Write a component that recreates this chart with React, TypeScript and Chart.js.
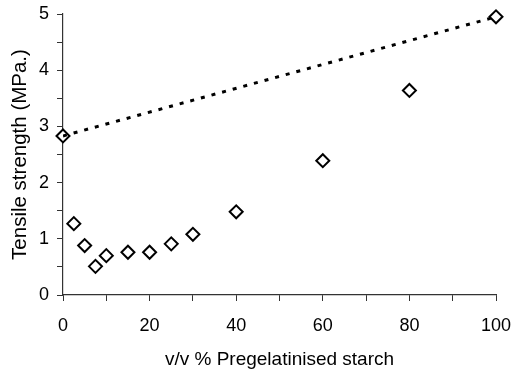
import React, { useEffect, useRef } from "react";
import { Chart, registerables } from "chart.js";

Chart.register(...registerables);

const starchPct = [0, 2.5, 5, 7.5, 10, 15, 20, 25, 30, 40, 60, 80, 100];
const tensile = [2.83, 1.27, 0.88, 0.51, 0.7, 0.76, 0.76, 0.91, 1.08, 1.48, 2.39, 3.64, 4.95];
const trendX = [0, 100];
const trendY = [2.83, 4.95];
const xTitle = "v/v % Pregelatinised starch";
const yTitle = "Tensile strength (MPa.)";

export default function App() {
  const ref = useRef<HTMLCanvasElement | null>(null);
  useEffect(() => {
    if (!ref.current) return;
    const tickFont = { family: "'Liberation Sans', Arial, sans-serif", size: 18 };
    const xTitleFont = { family: "'Liberation Sans', Arial, sans-serif", size: 19 };
    const yTitleFont = { family: "'Liberation Sans', Arial, sans-serif", size: 20.5 };
    const chart = new Chart(ref.current, {
      type: "scatter",
      data: {
        datasets: [
          {
            data: trendX.map((x, i) => ({ x, y: trendY[i] })),
            showLine: true,
            borderColor: "#000",
            borderWidth: 3,
            borderDash: [4, 7],
            pointRadius: 0,
            fill: false,
          },
          {
            data: starchPct.map((x, i) => ({ x, y: tensile[i] })),
            pointStyle: "rectRot",
            pointRadius: 6.5,
            pointBorderWidth: 2,
            pointBorderColor: "#000",
            pointBackgroundColor: "#fff",
            showLine: false,
            clip: false,
          } as any,
        ],
      },
      options: {
        animation: false,
        responsive: false,
        maintainAspectRatio: false,
        layout: { padding: { left: 0, right: 0, top: 14, bottom: 0 } },
        plugins: { legend: { display: false }, tooltip: { enabled: false } },
        scales: {
          x: {
            type: "linear",
            min: 0,
            max: 100,
            border: { color: "#333", width: 1.2 },
            grid: { display: true, drawOnChartArea: false, drawTicks: true, tickLength: 6, color: "#333" } as any,
            ticks: {
              stepSize: 10,
              color: "#000",
              font: tickFont,
              padding: 14,
              maxRotation: 0,
              autoSkip: false,
              callback: (v: any) => (Number(v) % 20 === 0 ? String(v) : ""),
            },
            title: { display: true, text: xTitle, color: "#000", font: xTitleFont, padding: { top: 4, bottom: 0 } },
            afterFit: (s: any) => {
              s.height = 76;
              s.paddingRight = 18;
              s.paddingLeft = 0;
            },
          },
          y: {
            type: "linear",
            min: 0,
            max: 5,
            border: { color: "#333", width: 1.2 },
            grid: { display: true, drawOnChartArea: false, drawTicks: true, tickLength: 6, color: "#333" } as any,
            ticks: {
              stepSize: 0.5,
              color: "#000",
              font: tickFont,
              padding: 8,
              autoSkip: false,
              callback: (v: any) => (Number.isInteger(Number(v)) ? String(v) : ""),
            },
            title: { display: true, text: yTitle, color: "#000", font: yTitleFont, padding: { top: 8, bottom: 0 } },
            afterFit: (s: any) => {
              s.width = 63;
              s.paddingTop = 0;
              s.paddingBottom = 0;
            },
          },
        },
      },
    });
    return () => chart.destroy();
  }, []);
  return (
    <div style={{ position: "fixed", left: 0, top: 0, width: 514, height: 371, background: "#fff" }}>
      <canvas ref={ref} width={514} height={371} style={{ width: 514, height: 371 }} />
    </div>
  );
}
